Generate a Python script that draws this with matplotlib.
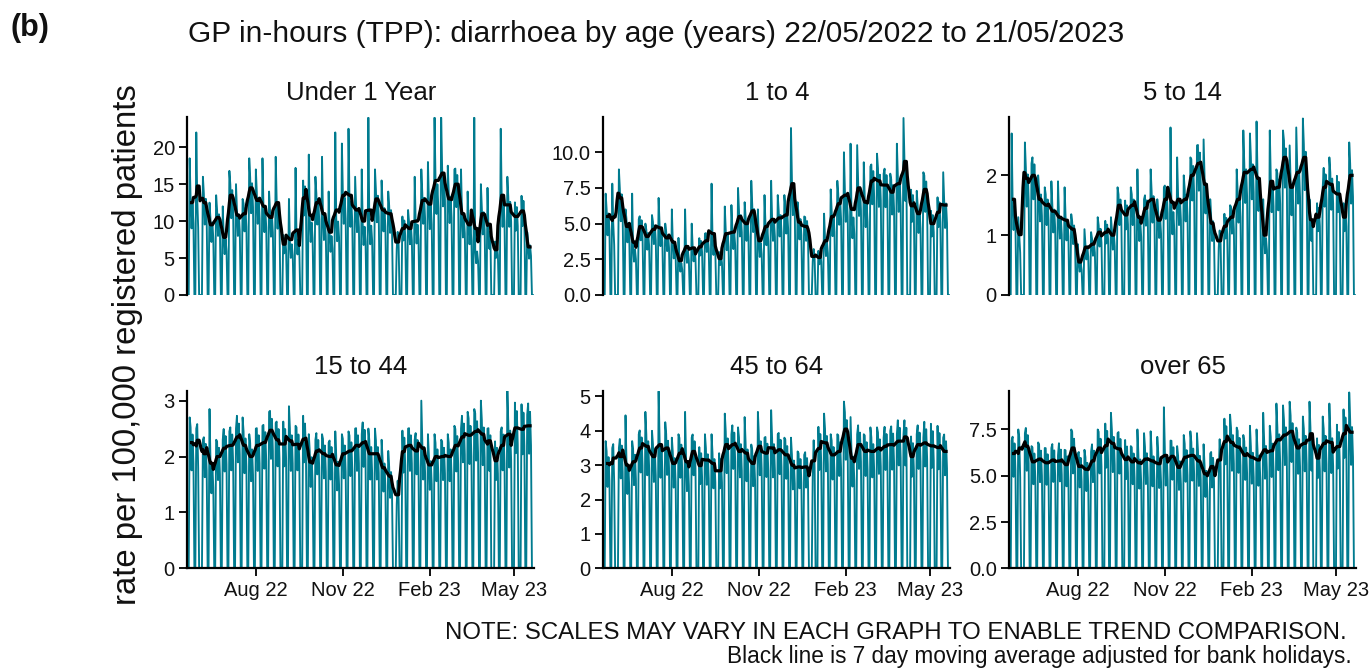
import matplotlib
matplotlib.use("Agg")
import matplotlib.pyplot as plt
import numpy as np
import pandas as pd

plt.rcParams["font.family"] = ["Liberation Sans", "DejaVu Sans"]

TEAL = "#007b8f"
INK = "#111111"

START = "2022-05-22"
END = "2023-05-21"

PANELS = ["Under 1 Year", "1 to 4", "5 to 14", "15 to 44", "45 to 64", "over 65"]

# weekday level (black line) per week, weeks start Mon 23/05/2022
under1 = [12.5, 13.3, 12.5, 9.5, 10.5, 7.8, 13.5, 10.8, 11.0, 14.5, 12.8, 12.0, 10.5,
          12.5, 8.0, 7.5, 8.8, 15.0, 10.8, 12.5, 11.0, 8.5, 11.5, 13.5, 13.5, 11.5,
          10.0, 11.5, 13.0, 11.5, 11.0, 8.5, 10.0, 9.0, 10.0, 12.8, 12.3, 15.5, 16.5,
          13.0, 15.0, 11.0, 9.5, 9.0, 11.0, 9.0, 7.5, 13.5, 12.2, 12.0, 11.5, 6.5]
age1_4 = [5.5, 5.0, 6.8, 4.8, 3.7, 4.8, 4.1, 4.6, 4.7, 4.0, 3.7, 2.4, 3.4,
          3.3, 3.6, 3.8, 4.3, 3.4, 4.3, 4.4, 5.5, 5.0, 5.9, 3.8, 4.8, 5.3,
          5.4, 5.6, 7.8, 5.1, 4.8, 3.2, 3.0, 3.8, 5.5, 6.4, 7.0, 6.0, 7.5,
          6.5, 8.0, 8.0, 7.7, 7.2, 7.8, 8.9, 6.5, 5.7, 7.4, 5.4, 7.0, 6.3]
age5_14 = [1.6, 0.95, 1.95, 2.0, 1.6, 1.5, 1.4, 1.3, 1.25, 1.1, 0.55, 0.8, 0.85,
           1.05, 1.1, 1.0, 1.5, 1.45, 1.5, 1.3, 1.45, 1.6, 1.25, 1.6, 1.55, 1.6,
           1.6, 2.0, 2.2, 1.85, 1.2, 1.05, 1.2, 1.3, 1.6, 2.05, 2.1, 1.95, 1.0,
           1.9, 1.8, 2.3, 1.8, 2.05, 2.3, 1.2, 1.4, 1.8, 1.85, 1.85, 1.5, 2.0]
age15_44 = [2.25, 2.25, 2.05, 1.88, 2.0, 2.15, 2.2, 2.35, 2.2, 2.0, 2.2, 2.25, 2.47,
            2.3, 2.3, 2.28, 2.22, 2.35, 1.9, 2.1, 2.05, 2.0, 1.85, 2.05, 2.1, 2.2,
            2.25, 2.05, 2.05, 1.8, 1.65, 1.5, 2.2, 2.2, 2.1, 2.15, 1.85, 2.0, 2.0,
            2.0, 2.2, 2.35, 2.38, 2.45, 2.4, 2.2, 2.05, 2.2, 2.4, 2.6, 2.55, 2.55]
age45_64 = [3.05, 3.15, 3.25, 3.0, 3.1, 3.5, 3.55, 3.25, 3.6, 3.5, 3.05, 3.35, 3.1,
            3.4, 3.2, 3.15, 3.05, 2.95, 3.6, 3.6, 3.4, 3.35, 3.05, 3.55, 3.35, 3.5,
            3.45, 3.3, 3.0, 2.95, 2.95, 3.3, 3.65, 3.65, 3.3, 3.4, 4.05, 3.2, 3.6,
            3.4, 3.4, 3.5, 3.55, 3.6, 3.7, 3.7, 3.3, 3.6, 3.65, 3.85, 3.7, 3.4]
over65 = [6.2, 6.3, 6.6, 5.75, 5.9, 5.7, 5.85, 5.8, 5.6, 6.5, 5.5, 5.35, 5.8,
          6.5, 6.7, 6.75, 6.45, 6.0, 5.75, 5.7, 5.9, 5.8, 5.65, 6.1, 6.05, 5.45,
          6.0, 6.1, 5.8, 5.1, 5.5, 6.5, 7.2, 6.8, 6.55, 6.1, 6.0, 5.85, 6.4,
          6.35, 6.95, 7.2, 7.4, 6.5, 6.75, 6.95, 6.3, 6.75, 6.8, 7.1, 7.4, 7.35]
LEVELS = [under1, age1_4, age5_14, age15_44, age45_64, over65]

# highest daily value in each week (teal spikes)
peak_under1 = [18.5, 22, 16, 12.5, 13.5, 12, 16.8, 15, 13, 18.5, 17, 18.5, 14,
               18.7, 12.5, 13, 17.2, 22.5, 19, 16, 18.7, 14, 22, 20.5, 22.5, 16,
               17, 24, 17, 15.5, 14, 12, 14, 11.5, 16, 17, 18, 24, 24,
               17.5, 17, 17, 14, 24, 15, 14.5, 13, 22.5, 16, 17.5, 12, 8.5]
peak_1_4 = [7.1, 7.8, 8.8, 6.0, 7.1, 5.3, 5.0, 5.6, 6.8, 5.0, 6.0, 4.0, 6.0,
            5.0, 4.5, 4.3, 7.8, 6.8, 6.2, 6.3, 7.5, 6.5, 8.0, 6.0, 7.0, 8.0,
            7.0, 7.0, 11.7, 6.5, 5.5, 4.5, 4.5, 5.7, 7.4, 8.0, 10.0, 10.6, 10.5,
            9.3, 9.0, 9.9, 8.5, 8.5, 10.6, 12.4, 7.5, 7.3, 8.6, 7.0, 11.8, 8.6]
peak_5_14 = [2.7, 1.3, 2.55, 2.2, 2.0, 1.8, 1.9, 1.9, 1.8, 1.35, 0.85, 1.1, 1.05,
             1.3, 1.3, 1.3, 1.8, 1.9, 1.8, 2.1, 1.6, 2.1, 1.6, 1.8, 2.8, 2.3,
             2.0, 2.3, 2.5, 2.6, 1.6, 1.4, 1.4, 1.5, 2.1, 2.75, 2.7, 2.9, 1.6,
             2.75, 2.1, 2.75, 2.5, 2.8, 2.95, 1.6, 1.8, 1.8, 2.3, 2.5, 2.3, 2.55]
peak_15_44 = [2.7, 2.5, 2.3, 2.85, 2.3, 2.3, 2.45, 2.5, 2.7, 2.4, 2.5, 2.55, 2.8,
              2.6, 2.6, 2.9, 2.55, 2.5, 2.4, 2.3, 2.4, 2.25, 2.45, 2.4, 2.45, 2.5,
              2.4, 2.5, 2.5, 2.3, 2.1, 1.9, 2.65, 2.5, 2.3, 3.0, 2.4, 2.4, 2.3,
              2.4, 2.55, 2.5, 2.8, 2.85, 3.0, 2.5, 2.55, 2.45, 3.2, 2.95, 2.8, 2.75]
peak_45_64 = [3.7, 3.5, 3.5, 4.45, 3.7, 3.9, 4.55, 4.0, 5.15, 4.25, 3.8, 3.9, 4.55,
              3.8, 4.05, 3.9, 3.9, 3.4, 4.5, 3.9, 4.1, 4.4, 3.6, 4.55, 3.8, 4.6,
              3.9, 3.8, 3.8, 3.4, 3.3, 3.2, 4.3, 4.5, 3.9, 3.9, 4.85, 4.4, 3.9,
              3.9, 4.1, 4.1, 3.8, 4.0, 3.9, 3.9, 3.5, 3.9, 3.8, 5.0, 4.45, 3.8]
peak_over65 = [6.9, 7.5, 7.3, 6.6, 6.8, 6.5, 6.5, 6.1, 6.4, 7.5, 6.2, 6.4, 6.3,
               7.5, 7.0, 8.4, 7.3, 6.5, 6.6, 7.5, 7.3, 7.4, 7.1, 8.7, 6.9, 6.6,
               7.2, 7.4, 7.3, 6.7, 6.2, 7.6, 8.6, 8.3, 7.6, 7.2, 7.7, 7.5, 8.4,
               7.7, 8.9, 8.8, 9.0, 7.6, 8.2, 9.0, 7.7, 8.2, 8.9, 9.2, 7.9, 9.5]
PEAKS = [peak_under1, peak_1_4, peak_5_14, peak_15_44, peak_45_64, peak_over65]

# relative share of the rest of the week, Tue..Fri
REST_SHAPE = [1.18, 0.82, 1.12, 0.88]

BANK_HOLIDAYS = ["2022-06-02", "2022-06-03", "2022-08-29", "2022-09-19",
                 "2022-12-26", "2022-12-27", "2023-01-02", "2023-04-07",
                 "2023-04-10", "2023-05-01", "2023-05-08"]

YMAX = [24.05, 12.45, 2.97, 3.18, 5.17, 9.6]
YTICKS = [[0, 5, 10, 15, 20], [0, 2.5, 5, 7.5, 10], [0, 1, 2],
          [0, 1, 2, 3], [0, 1, 2, 3, 4, 5], [0, 2.5, 5, 7.5]]
YTICKLABELS = [["0", "5", "10", "15", "20"], ["0.0", "2.5", "5.0", "7.5", "10.0"],
               ["0", "1", "2"], ["0", "1", "2", "3"], ["0", "1", "2", "3", "4", "5"],
               ["0.0", "2.5", "5.0", "7.5"]]
XTICKS = ["2022-08-01", "2022-11-01", "2023-02-01", "2023-05-01"]
XTICKLABELS = ["Aug 22", "Nov 22", "Feb 23", "May 23"]

days = pd.date_range(START, END, freq="D")
hols = days.isin(pd.to_datetime(BANK_HOLIDAYS))
open_day = (days.weekday < 5) & ~hols


def daily_series(levels, peaks):
    rest = np.array(REST_SHAPE) / sum(REST_SHAPE)
    vals = np.zeros(len(days))
    for i, d in enumerate(days):
        wd = d.weekday()
        if i == 0 or wd >= 5:
            continue
        wk = (i - 1) // 7
        if wd == 0:
            vals[i] = peaks[wk]
        else:
            vals[i] = (5 * levels[wk] - peaks[wk]) * rest[wd - 1]
    vals[hols] = 0.0
    return pd.Series(vals, index=days)


def moving_avg(s):
    ma = s.where(open_day).rolling(7, center=True, min_periods=1).mean()
    ma.iloc[:3] = np.nan
    ma.iloc[-3:] = np.nan
    return ma


W, H = 1370, 668
fig = plt.figure(figsize=(W / 100, H / 100), dpi=100)
fig.patch.set_facecolor("white")

lefts = [187.3, 603.3, 1009.3]
bottoms = [295.0, 568.3]
pw, ph = 347.0, 177.7

for i, name in enumerate(PANELS):
    row, col = divmod(i, 3)
    ax = fig.add_axes([lefts[col] / W, 1 - bottoms[row] / H, pw / W, ph / H])
    s = daily_series(LEVELS[i], PEAKS[i])
    ma = moving_avg(s)
    ax.plot(s.index, s.values, color=TEAL, lw=1.35)
    ax.plot(ma.index, ma.values, color="black", lw=2.3)

    ax.set_xlim(days[0] - pd.Timedelta(days=1.5), days[-1] + pd.Timedelta(days=1.5))
    ax.set_ylim(0, YMAX[i])
    ax.set_yticks(YTICKS[i])
    ax.set_yticklabels(YTICKLABELS[i])
    for side in ("top", "right"):
        ax.spines[side].set_visible(False)
    ax.spines["left"].set_linewidth(1.6)
    ax.spines["bottom"].set_linewidth(1.6)
    ax.tick_params(axis="both", direction="out", length=6, width=1.4,
                   labelsize=14.5, colors=INK, pad=3)
    if row == 0:
        ax.spines["bottom"].set_visible(False)
        ax.set_xticks([])
    else:
        ax.set_xticks(pd.to_datetime(XTICKS))
        ax.set_xticklabels(XTICKLABELS)
    ax.text(0.5, 1 + 24 / ph, name, transform=ax.transAxes, ha="center",
            va="center", fontsize=18.5, color=INK)

fig.text(10 / W, 1 - 28 / H, "(b)", fontsize=22, fontweight="bold",
         ha="left", va="center", color=INK)
fig.text(188 / W, 1 - 34 / H,
         "GP in-hours (TPP): diarrhoea by age (years) 22/05/2022 to 21/05/2023",
         fontsize=21.5, ha="left", va="center", color=INK)
fig.text(128 / W, 1 - 345 / H, "rate per 100,000 registered patients",
         rotation=90, fontsize=23.7, ha="center", va="center", color=INK)

fig.text(1347 / W, 1 - 633 / H,
         "NOTE: SCALES MAY VARY IN EACH GRAPH TO ENABLE TREND COMPARISON.",
         fontsize=17.3, ha="right", va="center", color=INK)
fig.text(1352 / W, 1 - 657 / H,
         "Black line is 7 day moving average adjusted for bank holidays.",
         fontsize=16.3, ha="right", va="center", color=INK)

fig.savefig("out.png", dpi=100)
